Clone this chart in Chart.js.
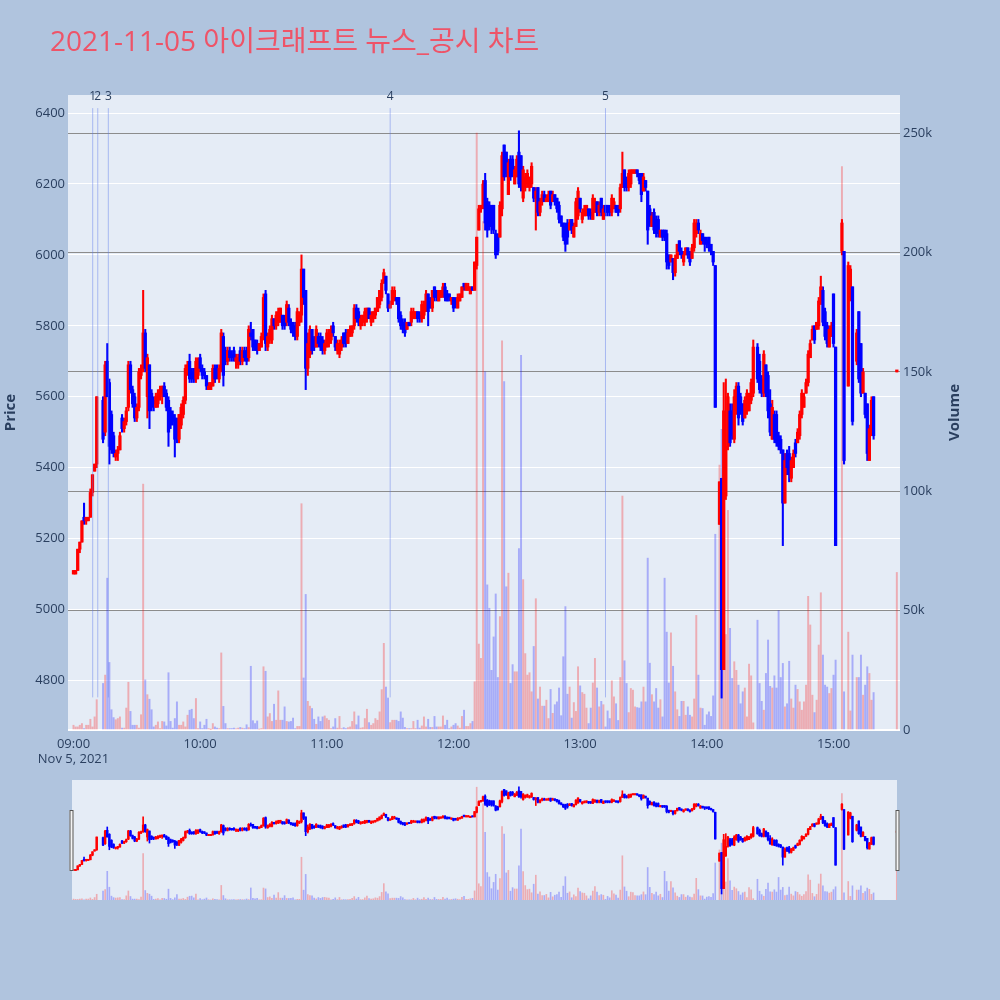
<!DOCTYPE html>
<html><head><meta charset="utf-8">
<script src="https://cdn.jsdelivr.net/npm/chart.js@4.4.1/dist/chart.umd.min.js"></script>
<style>
html,body{margin:0;padding:0;background:#b0c4de;}
body{width:1000px;height:1000px;position:relative;overflow:hidden;}
#main{position:absolute;left:0;top:0;}
#mini{position:absolute;left:0;top:770px;}
</style></head><body>
<canvas id="main" width="1000" height="770"></canvas>
<canvas id="mini" width="1000" height="140"></canvas>
<script>
// ---- data (minute index from 09:00; null = no trade) ----
const titleText = '2021-11-05 아이크래프트 뉴스_공시 차트';
const dateLabel = 'Nov 5, 2021';
const tickMinutes = [0, 60, 120, 180, 240, 300, 360];
const tickLabels = ['09:00', '10:00', '11:00', '12:00', '13:00', '14:00', '15:00'];
const priceTicks = [4800, 5000, 5200, 5400, 5600, 5800, 6000, 6200, 6400];
const volumeTicks = [0, 50000, 100000, 150000, 200000, 250000];
const newsMinutes = [9.1, 11.5, 16.5, 150, 252];
const newsLabels = ['1', '2', '3', '4', '5'];
const newsSpan = [4752, 6414];

const opens = [
5100,5100,5110,5170,5190,5260,5250,5250,5260,5330,
5390,5410,null,null,5590,5500,5700,5640,5550,5490,
5430,5440,5450,5540,5510,5530,5570,5690,5620,5600,
5540,5570,5660,5680,5780,5600,5690,5610,5590,5570,
5580,5600,5610,5630,5610,5590,5560,5550,5540,5520,
5480,5520,5550,5590,5670,5700,5670,5680,5650,5660,
5710,5680,5670,5660,5620,5620,5630,5680,5680,5650,
5680,5770,5730,5700,5730,5720,5730,5700,5690,5730,
5700,5730,5730,5710,5780,5790,5760,5750,5730,5740,
5770,5890,5740,5760,5760,5820,5800,5810,5810,5830,
5820,5810,5850,5810,5800,5800,5770,5810,5830,5960,
5900,5680,5720,5790,5760,5740,5770,5770,5760,5730,
5740,5750,5760,5800,5770,5730,5720,5740,5780,5780,
5750,5770,5780,5800,5850,5840,5800,5810,5810,5820,
5850,5810,5820,5830,5840,5860,5880,5920,5940,5890,
5850,5860,5880,5880,5880,5830,5810,5800,5790,5810,
5810,5820,5820,5840,5830,5820,5830,5850,5890,5870,
5850,5910,5900,5870,5880,5890,5910,5890,5890,5870,
5880,5870,5850,5870,5880,5920,5900,5900,5890,5910,
5900,5970,6070,6130,6140,6210,6150,6140,6140,6140,
6060,6050,6050,6130,6310,6290,6170,6270,6270,6200,
6220,6290,6280,6160,6190,6200,6190,6200,6190,6160,
6190,6120,6150,6170,6150,6150,6180,6150,6170,6160,
6140,6110,6090,6080,6090,6070,6100,6050,6080,6110,
6160,6100,6110,6120,6130,6120,6100,6120,6150,6120,
6160,6100,6140,6140,6130,6120,6130,6140,6130,6130,
6190,6240,6210,6190,6200,6230,6230,6240,6230,6230,
6180,6210,6180,6130,6080,6120,6100,6100,6050,6070,
6070,6060,6000,5980,5990,5950,5990,6040,6010,5980,
6000,6020,6000,5990,6020,6060,6090,6030,6060,6050,
6040,6050,6030,6010,5970,null,5240,5370,4830,5320,
5460,5560,5560,5480,5560,5630,5600,5580,5540,5560,
5560,5590,5610,null,5740,5700,5650,5610,5690,5660,
5580,5480,5550,5550,5490,5480,5450,5300,5440,5440,
5370,5400,5470,5470,5490,5550,5570,5610,5640,5710,
5760,5800,5790,5800,5870,5900,5840,5800,5740,5770,
5890,5740,null,null,6010,6010,null,5630,5880,5910,
null,5700,5840,5750,5610,5610,5580,5420,5490,5600,
null,null,null,null,null,null,null,null,null,null,
5670];
const highs = [
5110,5110,5170,5190,5250,5300,5260,5260,5340,5380,
5410,5600,null,null,5600,5700,5750,5650,5560,5500,
5450,5460,5500,5550,5540,5570,5700,5700,5630,5610,
5580,5680,5690,5900,5790,5720,5690,5620,5600,5610,
5620,5630,5630,5640,5620,5600,5570,5560,5550,5540,
5550,5580,5600,5690,5700,5720,5680,5680,5710,5710,
5720,5690,5680,5660,5640,5640,5690,5690,5690,5690,
5790,5780,5740,5740,5740,5730,5740,5720,5720,5740,
5740,5740,5740,5800,5810,5790,5760,5760,5750,5780,
5890,5900,5780,5800,5830,5820,5840,5850,5850,5830,
5830,5870,5860,5820,5810,5810,5850,5840,6000,5960,
5900,5780,5800,5790,5770,5800,5780,5780,5770,5760,
5790,5790,5800,5810,5770,5760,5760,5770,5780,5790,
5790,5800,5800,5860,5860,5850,5830,5830,5850,5850,
5850,5840,5840,5850,5880,5900,5930,5960,5940,5890,
5870,5910,5910,5880,5880,5840,5820,5820,5810,5810,
5850,5850,5840,5840,5840,5870,5870,5900,5890,5880,
5900,5910,5900,5900,5900,5920,5920,5900,5890,5880,
5880,5880,5890,5890,5910,5920,5920,5920,5910,5910,
5980,6050,6140,6140,6210,6230,6160,6150,6140,6140,
6070,6060,6150,6290,6310,6290,6270,6280,6280,6250,
6280,6350,6280,6250,6230,6240,6220,6260,6190,6190,
6190,6160,6180,6180,6170,6180,6180,6180,6170,6160,
6150,6110,6090,6090,6100,6100,6100,6090,6160,6190,
6160,6130,6140,6140,6130,6130,6170,6160,6150,6150,
6160,6140,6140,6140,6140,6170,6160,6140,6140,6200,
6290,6240,6220,6240,6240,6240,6240,6240,6230,6230,
6230,6210,6180,6140,6120,6130,6110,6110,6070,6070,
6070,6070,6000,6000,5990,6000,6030,6040,6020,6010,
6020,6020,6010,6030,6100,6100,6100,6070,6060,6050,
6050,6050,6030,6010,5970,null,5360,5370,5640,5650,
5610,5580,5580,5620,5640,5640,5610,5580,5600,5620,
5610,5650,5760,null,5750,5720,5660,5730,5690,5670,
5620,5590,5560,5560,5500,5490,5450,5440,5450,5460,
5430,5450,5480,5510,5560,5620,5610,5650,5730,5760,
5800,5800,5810,5880,5940,5910,5850,5810,5800,5810,
5890,5740,null,null,6100,6010,null,5980,5970,5910,
null,5790,5840,5750,5680,5610,5580,5520,5600,5600,
null,null,null,null,null,null,null,null,null,null,
5670];
const lows = [
5100,5100,5110,5160,5190,5240,5240,5250,5260,5320,
5390,5400,null,null,5470,5490,5600,5410,5440,5430,
5420,5420,5450,5500,5500,5520,5560,5610,5570,5530,
5530,5560,5650,5670,5670,5540,5510,5560,5560,5570,
5570,5590,5580,5600,5560,5460,5510,5520,5430,5470,
5470,5510,5540,5580,5660,5640,5640,5640,5640,5650,
5670,5650,5650,5620,5620,5620,5630,5640,5650,5640,
5670,5630,5690,5690,5700,5700,5700,5680,5680,5690,
5690,5700,5690,5700,5760,5730,5730,5720,5730,5740,
5760,5730,5730,5750,5750,5790,5790,5800,5810,5790,
5790,5800,5800,5780,5770,5760,5760,5800,5810,5860,
5620,5660,5710,5720,5730,5740,5740,5730,5720,5720,
5740,5740,5750,5770,5730,5720,5710,5730,5740,5740,
5750,5770,5770,5790,5810,5800,5790,5800,5800,5810,
5820,5800,5810,5820,5840,5850,5870,5920,5890,5840,
5850,5860,5870,5860,5810,5790,5780,5770,5790,5800,
5800,5820,5820,5810,5810,5810,5820,5840,5800,5850,
5840,5870,5870,5870,5880,5880,5870,5870,5870,5860,
5840,5850,5850,5870,5880,5900,5900,5900,5890,5900,
5900,5960,6070,6120,6130,6070,6050,6070,6060,6060,
5990,6000,6050,6110,6210,6220,6170,6210,6220,6200,
6220,6190,6180,6150,6180,6190,6180,6190,6150,6070,
6110,6110,6140,6150,6150,6150,6130,6150,6140,6120,
6090,6080,6040,6010,6030,6070,6060,6050,6080,6100,
6120,6090,6110,6110,6100,6100,6100,6120,6110,6110,
6110,6100,6110,6110,6110,6110,6130,6120,6110,6120,
6190,6180,6180,6180,6190,6230,6230,6220,6200,6150,
6180,6180,6030,6080,6080,6060,6050,6050,6050,6040,
6040,5960,5960,5980,5930,5940,5990,6000,5990,5970,
6000,5990,5970,5990,6010,6050,6060,6030,6030,6010,
6020,6010,6000,5970,5570,null,5240,4750,4830,5310,
5450,5460,5480,5470,5550,5520,5550,5520,5540,5550,
5560,5580,5600,null,5640,5610,5600,5600,5600,5540,
5490,5480,5470,5460,5450,5440,5180,5300,5380,5360,
5360,5400,5430,5470,5480,5540,5570,5610,5630,5710,
5760,5750,5790,5790,5860,5800,5760,5740,5740,5770,
5740,5180,null,null,6000,5410,null,5630,5870,5520,
null,5690,5640,5600,5610,5540,5420,5420,5490,5480,
null,null,null,null,null,null,null,null,null,null,
5670];
const closes = [
5110,5110,5170,5190,5250,5250,5260,5260,5330,5380,
5410,5600,null,null,5480,5690,5600,5460,5450,5440,
5440,5450,5490,5510,5530,5560,5690,5620,5580,5540,
5570,5670,5680,5780,5680,5710,5560,5570,5580,5600,
5610,5620,5630,5600,5570,5500,5520,5530,5480,5490,
5550,5570,5590,5680,5690,5650,5650,5650,5700,5700,
5680,5660,5660,5630,5630,5640,5680,5650,5660,5680,
5780,5660,5700,5730,5710,5710,5710,5710,5710,5700,
5730,5710,5700,5790,5770,5740,5740,5730,5750,5770,
5880,5750,5770,5790,5820,5800,5830,5840,5850,5800,
5800,5860,5810,5790,5780,5770,5840,5830,5960,5880,
5680,5750,5790,5730,5740,5790,5750,5740,5730,5750,
5780,5780,5790,5780,5740,5750,5750,5760,5750,5750,
5780,5790,5800,5850,5820,5810,5820,5830,5840,5850,
5820,5830,5840,5850,5880,5900,5920,5950,5900,5850,
5860,5900,5900,5870,5820,5800,5790,5780,5810,5800,
5840,5840,5840,5820,5820,5860,5860,5890,5840,5850,
5900,5880,5880,5900,5900,5910,5880,5870,5880,5880,
5850,5860,5880,5890,5910,5910,5920,5910,5910,5900,
5980,6050,6130,6140,6200,6090,6070,6080,6080,6070,
6000,6010,6140,6280,6220,6230,6260,6220,6230,6240,
6270,6200,6200,6240,6220,6230,6210,6250,6160,6180,
6120,6150,6170,6150,6160,6170,6140,6170,6150,6130,
6100,6090,6050,6030,6050,6090,6070,6080,6150,6180,
6130,6120,6130,6140,6110,6110,6160,6150,6120,6140,
6120,6130,6120,6120,6120,6160,6150,6120,6120,6190,
6230,6190,6190,6230,6240,6240,6240,6230,6210,6170,
6220,6190,6070,6090,6110,6070,6060,6060,6070,6050,
6050,5980,5970,6000,5950,5990,6030,6010,6000,6000,
6020,6000,5980,6020,6090,6090,6070,6060,6040,6030,
6030,6020,6010,5980,5570,null,5360,4830,5560,5460,
5600,5470,5490,5600,5630,5540,5560,5530,5590,5610,
5600,5640,5740,null,5650,5620,5610,5720,5610,5560,
5500,5570,5480,5470,5460,5450,5300,5420,5400,5380,
5420,5440,5440,5500,5550,5610,5600,5640,5720,5750,
5790,5760,5810,5870,5910,5810,5770,5750,5790,5800,
5750,5180,null,null,6090,5420,null,5970,5960,5530,
null,5780,5650,5610,5670,5550,5440,5510,5590,5490,
null,null,null,null,null,null,null,null,null,null,
5670];
const volumes = [
2000,1300,1300,2000,2700,600,2000,2000,4500,1300,
5500,12700,0,0,19500,23000,63600,28300,8500,5200,
4300,4800,5500,800,800,9200,20000,7800,2000,2000,
2000,800,6400,103000,21000,14800,12900,8500,1300,2000,
3400,600,3600,3400,1700,24000,3600,800,4800,11800,
2000,2000,3400,1300,6200,8300,8700,4800,13200,600,
3400,600,2000,4500,600,100,2700,1300,800,600,
32300,9900,2700,600,600,600,800,500,800,1100,
800,600,2200,1000,26700,3900,2700,3800,300,600,
26500,24600,5500,6900,3600,10800,4100,16400,4100,4100,
9700,3600,3400,3600,5000,600,1500,1500,94800,21800,
56800,12000,10000,9000,4500,2400,5500,3600,5500,5900,
4800,4100,600,1300,4800,800,5700,600,1000,600,
1000,1300,3600,7600,2200,5900,800,1000,4800,8700,
3100,2000,2700,4800,4100,7600,16900,36300,18000,13400,
3100,4100,4100,4100,3600,7600,5000,1100,600,600,
600,3600,600,4100,800,1700,5500,1300,4500,1100,
1100,5700,1300,1300,1300,5900,2000,4100,600,1300,
2000,2700,1700,800,5700,8300,1500,1500,2700,3600,
20200,250000,36000,30000,213000,150000,60800,51000,25000,39000,
57000,22000,47500,163000,146000,60000,65700,19500,27400,24400,
24400,76000,157000,63000,32000,23000,24000,16000,35000,55000,
13000,18000,10000,10000,12500,4800,17000,7000,10600,11800,
17600,6000,30700,51700,15000,18000,5000,11500,7800,26500,
18500,15700,15000,9200,2700,9200,19700,30000,17600,9700,
12000,10600,1300,8000,4800,20600,13900,11000,4000,22000,
98000,29000,19500,7300,17400,16700,9700,9400,9200,11800,
18000,11800,72000,28000,14800,11800,17400,9200,12700,5500,
63600,41000,19700,40700,26700,16000,8500,5700,12000,12000,
6200,9700,6200,5500,13000,48000,23000,9200,9000,2000,
6400,7600,5700,14300,82000,0,111000,126000,60000,40000,
92000,42600,21600,28600,25000,18800,11000,16000,17600,5500,
27600,22700,3000,0,46000,19500,12000,8300,23700,37700,
18300,17600,22700,17600,50000,22000,27900,9700,11000,28800,
13000,9200,18800,17000,11800,8300,11800,18800,56000,44000,
14600,7300,12500,35600,57500,31400,18800,18000,15300,17400,
23000,29300,0,0,236000,16000,0,41000,8000,31400,
0,22000,22000,31400,14600,18800,26500,23700,12500,15700,
0,0,0,0,0,0,0,0,0,0,
66000];

// ---- build datasets from the arrays ----
const UP = '#ff0000', DOWN = '#0000ff';
const VUP = 'rgba(255,0,0,0.27)', VDOWN = 'rgba(0,0,255,0.27)';
function buildSets(mini) {
  const bodies = [], wicks = [], bc = [], vols = [], vc = [];
  for (let k = 0; k < opens.length; k++) {
    if (opens[k] == null) continue;
    const o = opens[k], c = closes[k], up = c >= o;
    bodies.push({x: k, y: [Math.min(o, c), Math.max(o, c)]});
    wicks.push({x: k, y: [Math.min(lows[k], o, c), Math.max(highs[k], o, c)]});
    bc.push(up ? UP : DOWN);
  }
  for (let k = 0; k < volumes.length; k++) {
    if (!volumes[k]) continue;
    const up = opens[k] == null ? true : closes[k] >= opens[k];
    vols.push({x: k, y: volumes[k]});
    vc.push(up ? VUP : VDOWN);
  }
  const sets = [
    {type: 'bar', data: bodies, backgroundColor: bc, barThickness: mini ? 1.8 : 2.6,
     minBarLength: mini ? 1.2 : 2, grouped: false, yAxisID: 'y', order: 1, borderWidth: 0},
    {type: 'bar', data: wicks, backgroundColor: bc, barThickness: mini ? 1 : 1.4,
     minBarLength: 1, grouped: false, yAxisID: 'y', order: 2, borderWidth: 0},
    {type: 'bar', data: vols, backgroundColor: vc, barThickness: mini ? 1 : 1.3,
     grouped: false, yAxisID: 'y1', order: 3, borderWidth: 0}
  ];
  if (!mini) {
    const nl = [];
    newsMinutes.forEach(t => { nl.push({x: t, y: newsSpan[0]}, {x: t, y: newsSpan[1]}, {x: t, y: null}); });
    sets.push({type: 'line', data: nl, borderColor: 'rgba(90,120,235,0.45)', borderWidth: 1,
      pointRadius: 0, spanGaps: false, yAxisID: 'y', order: 0, fill: false});
  }
  return sets;
}

const FONT = '"Open Sans", "Noto Sans CJK KR", sans-serif';
const TXT = '#2a3f5f';
const PLOT_BG = '#e5ecf6';

const bgPlugin = {
  id: 'plotbg',
  beforeDraw(chart) {
    const a = chart.chartArea, ctx = chart.ctx;
    ctx.save(); ctx.fillStyle = PLOT_BG; ctx.fillRect(a.left, a.top, a.right - a.left, a.bottom - a.top); ctx.restore();
  }
};

const overlayPlugin = {
  id: 'overlay',
  afterDraw(chart) {
    const ctx = chart.ctx, a = chart.chartArea, xs = chart.scales.x;
    ctx.save();
    ctx.fillStyle = '#ee5468';
    ctx.font = '28px ' + FONT;
    ctx.textAlign = 'left'; ctx.textBaseline = 'alphabetic';
    ctx.fillText(titleText, 50, 51);
    ctx.fillStyle = TXT; ctx.font = '12px ' + FONT;
    ctx.textAlign = 'center'; ctx.textBaseline = 'middle';
    newsMinutes.forEach((t, i) => ctx.fillText(newsLabels[i], xs.getPixelForValue(t), 97));
    ctx.font = 'bold 15px ' + FONT;
    ctx.translate(11, (a.top + a.bottom) / 2); ctx.rotate(-Math.PI / 2);
    ctx.fillText('Price', 0, 0);
    ctx.setTransform(1, 0, 0, 1, 0, 0);
    ctx.translate(955, (a.top + a.bottom) / 2); ctx.rotate(-Math.PI / 2);
    ctx.fillText('Volume', 0, 0);
    ctx.restore();
  }
};

const tickFont = {family: FONT, size: 13};
new Chart(document.getElementById('main'), {
  data: {datasets: buildSets(false)},
  options: {
    responsive: false, animation: false, devicePixelRatio: 1,
    layout: {padding: {top: 95, left: 0, right: 0, bottom: 0}},
    plugins: {legend: {display: false}, tooltip: {enabled: false}, title: {display: false}},
    scales: {
      x: {type: 'linear', min: -2.6, max: 391.5, offset: false,
        grid: {display: false}, border: {display: false},
        afterBuildTicks: s => { s.ticks = tickMinutes.map(v => ({value: v})); },
        afterFit: s => { s.height = 40; },
        ticks: {autoSkip: false, maxRotation: 0, padding: -2, color: TXT, font: {family: FONT, size: 13, lineHeight: 1.2},
          callback: v => { const i = tickMinutes.indexOf(v); return i === 0 ? [tickLabels[0], dateLabel] : tickLabels[i]; }}},
      y: {type: 'linear', position: 'left', min: 4660, max: 6451,
        grid: {color: '#ffffff', lineWidth: 1, drawTicks: false}, border: {display: false},
        afterBuildTicks: s => { s.ticks = priceTicks.map(v => ({value: v})); },
        afterFit: s => { s.width = 68; },
        ticks: {padding: 3, color: TXT, font: tickFont, callback: v => String(v)}},
      y1: {type: 'linear', position: 'right', min: 0, max: 266000,
        grid: {color: c => (c.tick && c.tick.value === 0) ? '#ffffff' : '#8c8c8c',
               lineWidth: c => (c.tick && c.tick.value === 0) ? 2 : 1, drawTicks: false},
        border: {display: false},
        afterBuildTicks: s => { s.ticks = volumeTicks.map(v => ({value: v})); },
        afterFit: s => { s.width = 100; },
        ticks: {padding: 3, color: TXT, font: tickFont, callback: v => v === 0 ? '0' : (v / 1000) + 'k'}}
    }
  },
  plugins: [bgPlugin, overlayPlugin]
});

const handlePlugin = {
  id: 'handles',
  afterDraw(chart) {
    const ctx = chart.ctx, a = chart.chartArea;
    ctx.save();
    ctx.fillStyle = '#f4f4f4'; ctx.strokeStyle = '#555'; ctx.lineWidth = 1;
    [a.left - 2.5, a.right - 1.5].forEach(x => { ctx.fillRect(x, 40, 4, 61); ctx.strokeRect(x + 0.5, 40.5, 3, 60); });
    ctx.restore();
  }
};

new Chart(document.getElementById('mini'), {
  data: {datasets: buildSets(true)},
  options: {
    responsive: false, animation: false, devicePixelRatio: 1,
    layout: {padding: {top: 10, left: 72, right: 103, bottom: 10}},
    plugins: {legend: {display: false}, tooltip: {enabled: false}},
    scales: {
      x: {type: 'linear', display: false, min: -0.7, max: 390.1, offset: false},
      y: {type: 'linear', display: false, min: 4660, max: 6451},
      y1: {type: 'linear', display: false, min: 0, max: 266000}
    }
  },
  plugins: [bgPlugin, handlePlugin]
});
</script>
</body></html>
